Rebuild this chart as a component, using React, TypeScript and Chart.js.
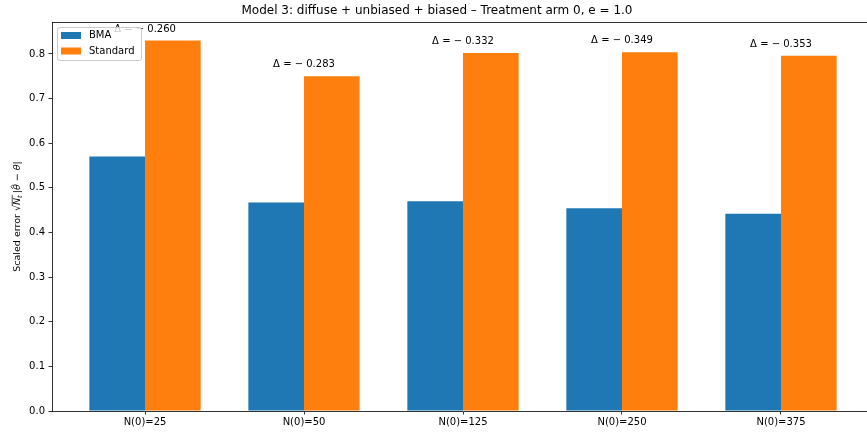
import React, { useEffect, useRef } from "react";
import { Chart, registerables } from "chart.js";

Chart.register(...registerables);

const categories = ["N(0)=25", "N(0)=50", "N(0)=125", "N(0)=250", "N(0)=375"];
const bmaValues = [0.570, 0.467, 0.470, 0.454, 0.442];
const standardValues = [0.830, 0.750, 0.802, 0.804, 0.796];
const deltaValues = [-0.260, -0.283, -0.332, -0.349, -0.353];
const yTickValues = [0.0, 0.1, 0.2, 0.3, 0.4, 0.5, 0.6, 0.7, 0.8];
const seriesNames = ["BMA", "Standard"];
const seriesColors = ["#1f77b4", "#ff7f0e"];
const titleText = "Model 3: diffuse + unbiased + biased \u2013 Treatment arm 0, e = 1.0";
const yLabelPlain = "Scaled error ";

const FONT = "'DejaVu Sans', 'Liberation Sans', sans-serif";
const BAR_W = 0.35;

function drawYLabel(ctx: CanvasRenderingContext2D, cx: number, cy: number) {
  const fs = 9.5;
  const rm = `${fs}px ${FONT}`;
  const it = `italic ${fs}px ${FONT}`;
  const sub = `italic ${fs * 0.7}px ${FONT}`;
  type Seg = { t: string; f: string; dy?: number; gap?: number };
  const segs: Seg[] = [
    { t: yLabelPlain, f: rm },
    { t: "\u221A", f: rm },
    { t: "N", f: it },
    { t: "t", f: sub, dy: 2 },
    { t: "", f: rm, gap: 2 },
    { t: "|", f: rm },
    { t: "\u03B8", f: it },
    { t: " \u2212 ", f: rm },
    { t: "\u03B8", f: it },
    { t: "|", f: rm },
  ];
  let total = 0;
  const widths: number[] = [];
  for (const s of segs) {
    ctx.font = s.f;
    const w = ctx.measureText(s.t).width + (s.gap || 0);
    widths.push(w);
    total += w;
  }
  ctx.save();
  ctx.translate(cx, cy);
  ctx.rotate(-Math.PI / 2);
  ctx.fillStyle = "#000";
  ctx.strokeStyle = "#000";
  ctx.textAlign = "left";
  ctx.textBaseline = "alphabetic";
  const base = fs * 0.36;
  let x = -total / 2;
  let overStart = 0;
  let overEnd = 0;
  segs.forEach((s, i) => {
    ctx.font = s.f;
    ctx.fillText(s.t, x, base + (s.dy || 0));
    if (i === 2) overStart = x;
    if (i === 3) overEnd = x + widths[i];
    if (i === 6) {
      // hat over theta
      ctx.font = rm;
      const hw = widths[i];
      ctx.beginPath();
      ctx.lineWidth = 0.7;
      ctx.moveTo(x + hw * 0.2, base - fs * 0.8);
      ctx.lineTo(x + hw * 0.6, base - fs * 0.98);
      ctx.lineTo(x + hw * 0.95, base - fs * 0.8);
      ctx.stroke();
    }
    x += widths[i];
  });
  // overline of the square root
  ctx.beginPath();
  ctx.lineWidth = 0.7;
  ctx.moveTo(overStart - 1, base - fs * 0.86);
  ctx.lineTo(overEnd + 0.5, base - fs * 0.86);
  ctx.stroke();
  ctx.restore();
}

export default function App() {
  const canvasRef = useRef<HTMLCanvasElement | null>(null);

  useEffect(() => {
    const canvas = canvasRef.current;
    if (!canvas) return;
    const n = categories.length;
    const lo = -BAR_W;
    const hi = n - 1 + BAR_W;
    const margin = (hi - lo) * 0.05;
    const yMax = Math.max(...standardValues, ...bmaValues) * 1.05;

    const overlay = {
      id: "overlay",
      afterDatasetsDraw(chart: any) {
        const { ctx, scales } = chart;
        const xs = scales.x;
        const ys = scales.y;
        ctx.save();
        ctx.font = `10px ${FONT}`;
        ctx.fillStyle = "#000";
        ctx.textAlign = "center";
        ctx.textBaseline = "alphabetic";
        categories.forEach((_, i) => {
          const top = Math.max(bmaValues[i], standardValues[i]);
          const px = xs.getPixelForValue(i);
          const py = ys.getPixelForValue(top + 0.02);
          const d = deltaValues[i];
          const txt = `\u0394 = ${d < 0 ? "\u2212 " : ""}${Math.abs(d).toFixed(3)}`;
          ctx.fillText(txt, px, py);
        });
        ctx.restore();
      },
      afterDraw(chart: any) {
        const { ctx, chartArea } = chart;
        ctx.save();
        // top spine
        ctx.strokeStyle = "#000";
        ctx.lineWidth = 0.8;
        ctx.beginPath();
        ctx.moveTo(chartArea.left, chartArea.top + 0.5);
        ctx.lineTo(chartArea.right, chartArea.top + 0.5);
        ctx.stroke();
        // legend
        const lx = chartArea.left + 5;
        const ly = chartArea.top + 5;
        const lw = 84;
        const lh = 33;
        ctx.beginPath();
        ctx.roundRect(lx + 0.5, ly + 0.5, lw, lh, 2.5);
        ctx.globalAlpha = 0.8;
        ctx.fillStyle = "#fff";
        ctx.fill();
        ctx.globalAlpha = 1;
        ctx.strokeStyle = "#cccccc";
        ctx.lineWidth = 1;
        ctx.stroke();
        ctx.font = `10px ${FONT}`;
        ctx.textAlign = "left";
        ctx.textBaseline = "middle";
        seriesNames.forEach((name, i) => {
          const cy = ly + 8.5 + i * 15.5;
          ctx.fillStyle = seriesColors[i];
          ctx.fillRect(lx + 4, cy - 3.5, 20, 7);
          ctx.fillStyle = "#000";
          ctx.fillText(name, lx + 32, cy);
        });
        ctx.restore();
        // y-axis label
        drawYLabel(ctx, 17, (chartArea.top + chartArea.bottom) / 2);
      },
    };

    const chart = new Chart(canvas, {
      type: "bar",
      data: {
        datasets: [
          {
            label: seriesNames[0],
            data: categories.map((_, i) => ({ x: i, y: bmaValues[i] })),
            backgroundColor: seriesColors[0],
            borderWidth: 0,
            categoryPercentage: BAR_W * 2,
            barPercentage: 1.0,
          },
          {
            label: seriesNames[1],
            data: categories.map((_, i) => ({ x: i, y: standardValues[i] })),
            backgroundColor: seriesColors[1],
            borderWidth: 0,
            categoryPercentage: BAR_W * 2,
            barPercentage: 1.0,
          },
        ],
      } as any,
      options: {
        animation: false,
        responsive: false,
        devicePixelRatio: 1,
        layout: { padding: { left: 0, right: 52, top: 0, bottom: 0 } },
        plugins: {
          legend: { display: false },
          tooltip: { enabled: false },
          title: {
            display: true,
            text: titleText,
            color: "#000",
            font: { family: FONT, size: 12, weight: "normal" as any, lineHeight: 1.2 },
            padding: { top: 4, bottom: 3.6 },
          },
        },
        scales: {
          x: {
            type: "linear",
            min: lo - margin,
            max: hi + margin,
            offset: false,
            afterFit: (s: any) => {
              s.height = 21;
            },
            afterBuildTicks: (s: any) => {
              s.ticks = categories.map((_, i) => ({ value: i }));
            },
            ticks: {
              color: "#000",
              font: { family: FONT, size: 10 },
              padding: 2,
              maxRotation: 0,
              autoSkip: false,
              callback: (v: any) => categories[Math.round(Number(v))] ?? "",
            },
            grid: {
              display: true,
              offset: false,
              drawOnChartArea: false,
              drawTicks: true,
              tickLength: 3.5,
              color: "#000",
              lineWidth: 0.8,
            },
            border: { display: true, color: "#000", width: 0.8 },
          },
          y: {
            type: "linear",
            min: 0,
            max: yMax,
            afterFit: (s: any) => {
              s.width = 52;
            },
            afterBuildTicks: (s: any) => {
              s.ticks = yTickValues.map((v) => ({ value: v }));
            },
            ticks: {
              color: "#000",
              font: { family: FONT, size: 10 },
              padding: 3.5,
              callback: (v: any) => Number(v).toFixed(1),
            },
            grid: {
              display: true,
              drawOnChartArea: false,
              drawTicks: true,
              tickLength: 3.5,
              color: "#000",
              lineWidth: 0.8,
            },
            border: { display: true, color: "#000", width: 0.8 },
            title: { display: false },
          },
        },
      } as any,
      plugins: [overlay],
    });

    return () => chart.destroy();
  }, []);

  return (
    <div
      style={{
        position: "fixed",
        left: 0,
        top: 0,
        width: 867,
        height: 432,
        overflow: "hidden",
        background: "#fff",
      }}
    >
      <canvas ref={canvasRef} width={926} height={432} style={{ display: "block" }} />
    </div>
  );
}
